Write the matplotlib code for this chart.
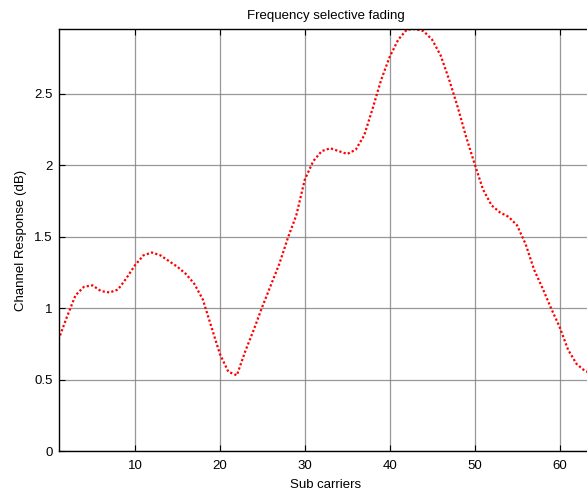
import numpy as np
import matplotlib
matplotlib.use('Agg')
import matplotlib.pyplot as plt

plt.rcParams['font.family'] = ['Liberation Sans', 'DejaVu Sans']

# channel response, one value per sub carrier
sub = np.arange(1, 65)
resp = [0.78, 0.94, 1.09, 1.15, 1.16, 1.12, 1.11, 1.13, 1.21, 1.30,
        1.37, 1.39, 1.37, 1.33, 1.29, 1.24, 1.17, 1.06, 0.87, 0.68,
        0.555, 0.53, 0.70, 0.85, 1.01, 1.16, 1.31, 1.49, 1.65, 1.90,
        2.03, 2.10, 2.12, 2.10, 2.08, 2.11, 2.21, 2.40, 2.60, 2.76,
        2.88, 2.95, 2.955, 2.94, 2.88, 2.77, 2.60, 2.41, 2.20, 2.01,
        1.83, 1.72, 1.67, 1.64, 1.58, 1.45, 1.27, 1.14, 1.00, 0.87,
        0.71, 0.61, 0.56, 0.54]

xticks = [10, 20, 30, 40, 50, 60]
yticks = [0, 0.5, 1, 1.5, 2, 2.5]
yticklabels = ['0', '0.5', '1', '1.5', '2', '2.5']

W, H = 587, 491
fs = 9.5
fig = plt.figure(figsize=(W / 100, H / 100), dpi=100)
# axes run a little past the right edge, like the cropped original
ax = fig.add_axes([58.5 / W, (H - 451) / H, (593.5 - 58.5) / W, (451 - 29) / H])

ax.plot(sub, resp, color='red', linestyle=(0, (1, 1)), lw=1.6, clip_on=True)

ax.set_xlim(1, 64)
ax.set_ylim(0, max(resp))
ax.set_xticks(xticks)
ax.set_yticks(yticks)
ax.set_yticklabels(yticklabels)
ax.grid(True, color='#7f7f7f', lw=0.9, alpha=0.8)
ax.tick_params(direction='in', length=4, width=0.8, top=True, right=True,
               labelsize=fs, colors='black')
ax.tick_params(axis='x', pad=6.7)
ax.tick_params(axis='y', pad=4)
for s in ax.spines.values():
    s.set_linewidth(1.0)

ax.set_title('Frequency selective fading', fontsize=fs, pad=7)
ax.set_xlabel('Sub carriers', fontsize=fs, labelpad=5)
ax.set_ylabel('Channel Response (dB)', fontsize=fs, labelpad=5)

fig.savefig('out.png', dpi=100)
